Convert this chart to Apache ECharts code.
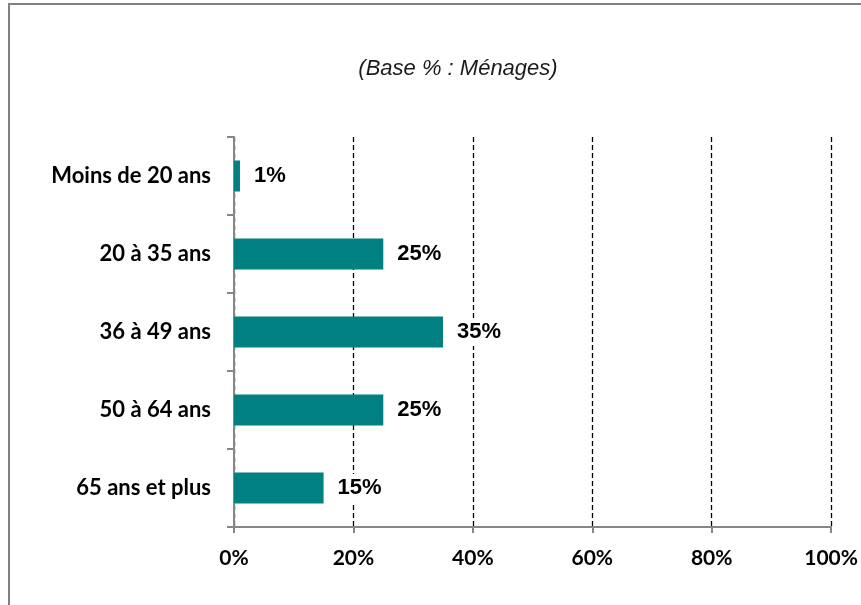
<!DOCTYPE html>
<html>
<head>
<meta charset="utf-8">
<script src="https://cdn.jsdelivr.net/npm/echarts@6/dist/echarts.min.js"></script>
<style>
  html, body { margin: 0; padding: 0; background: #fff; }
  #chart { width: 861px; height: 605px; }
</style>
</head>
<body>
<div id="chart"></div>
<script>
const categories = ['Moins de 20 ans', '20 à 35 ans', '36 à 49 ans', '50 à 64 ans', '65 ans et plus'];
const values = [1, 25, 35, 25, 15];
const xTicks = [0, 20, 40, 60, 80, 100];

const chart = echarts.init(document.getElementById('chart'));
const options = {
  animation: false,
  backgroundColor: '#fff',
  title: {
    text: '(Base % : Ménages)',
    left: 453,
    textAlign: 'center',
    top: 53,
    textStyle: {
      fontFamily: 'Liberation Sans',
      fontSize: 22,
      fontStyle: 'italic',
      fontWeight: 'normal',
      color: '#1a1a1a'
    }
  },
  graphic: [
    {
      type: 'rect',
      shape: { x: 9, y: 4, width: 900, height: 700 },
      style: { fill: 'none', stroke: '#808080', lineWidth: 2 },
      silent: true
    }
  ],
  grid: { left: 234, right: 29, top: 137, bottom: 78 },
  xAxis: {
    type: 'value',
    min: xTicks[0],
    max: xTicks[xTicks.length - 1],
    interval: 20,
    axisLine: { show: true, lineStyle: { color: '#868686', width: 2 } },
    axisTick: { show: true, length: 6, lineStyle: { color: '#868686', width: 2 } },
    axisLabel: {
      margin: 21,
      formatter: v => v + '%',
      fontFamily: 'Lato',
      fontWeight: 'bold',
      fontSize: 21,
      color: '#000'
    },
    splitLine: {
      show: true,
      lineStyle: { color: '#000', type: [5, 3], width: 1.3 }
    }
  },
  yAxis: {
    type: 'category',
    data: categories,
    inverse: true,
    axisLine: { show: true, lineStyle: { color: '#868686', width: 2 } },
    axisTick: { show: true, length: 7, lineStyle: { color: '#868686', width: 2 } },
    axisLabel: {
      margin: 23,
      fontFamily: 'Lato',
      fontWeight: 'bold',
      fontSize: 22,
      color: '#000'
    }
  },
  series: [
    {
      type: 'bar',
      data: values,
      barWidth: 31,
      itemStyle: { color: '#008080' },
      label: {
        show: true,
        position: 'right',
        distance: 10,
        formatter: p => p.value + '%',
        fontFamily: '"Liberation Sans", Arial, sans-serif',
        fontWeight: 'bold',
        fontSize: 22,
        color: '#000',
        backgroundColor: '#fff',
        padding: [5, 4, 1, 4]
      },
      z: 3
    }
  ]
};
chart.setOption(options);
</script>
</body>
</html>
